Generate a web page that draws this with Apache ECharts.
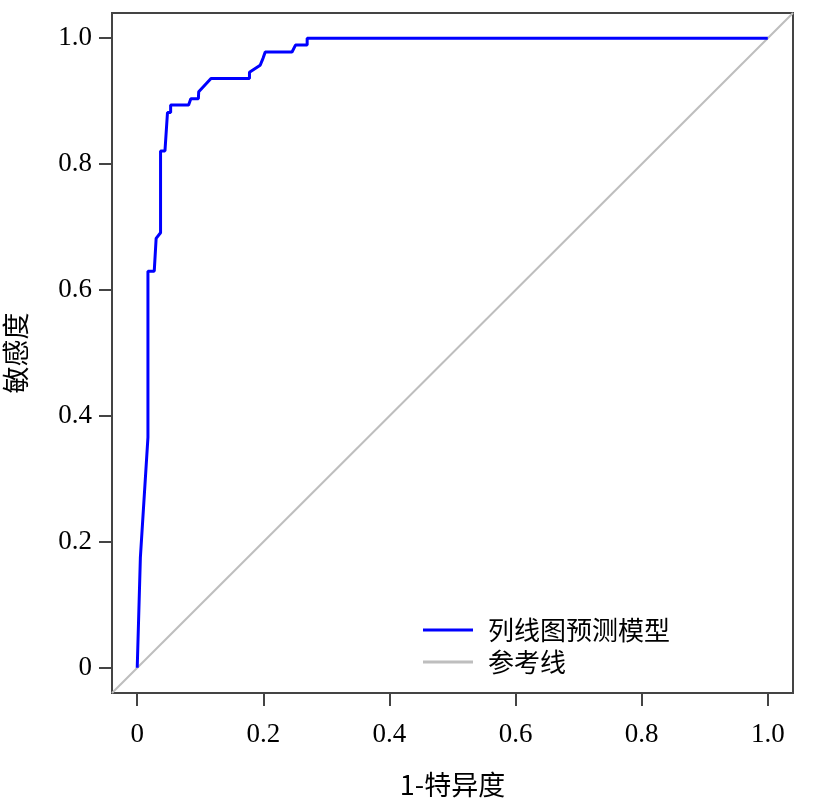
<!DOCTYPE html>
<html>
<head>
<meta charset="utf-8">
<script src="https://cdn.jsdelivr.net/npm/echarts@6/dist/echarts.min.js"></script>
<style>html,body{margin:0;padding:0;background:#fff}#c{width:827px;height:800px}</style>
</head>
<body>
<div id="c"></div>
<script>
// ROC curve points: [1 - specificity, sensitivity]
var rocPoints = [
  [0, 0], [0.005, 0.175], [0.017, 0.366], [0.017, 0.630], [0.027, 0.630],
  [0.030, 0.682], [0.033, 0.682], [0.037, 0.691], [0.037, 0.821], [0.044, 0.821],
  [0.048, 0.882], [0.053, 0.882], [0.053, 0.894], [0.0815, 0.894], [0.085, 0.904],
  [0.097, 0.904], [0.0975, 0.915], [0.117, 0.936], [0.178, 0.936], [0.178, 0.946],
  [0.195, 0.957], [0.1995, 0.968], [0.203, 0.978], [0.2455, 0.978], [0.251, 0.989],
  [0.2695, 0.989], [0.2695, 1.0], [1.0, 1.0]
];
var refPoints = [[-0.04, -0.04], [1.04, 1.04]];
var tickValues = [0, 0.2, 0.4, 0.6, 0.8, 1.0];
var tickLabels = ['0', '0.2', '0.4', '0.6', '0.8', '1.0'];
var seriesNames = ['列线图预测模型', '参考线'];
var xName = '1-特异度';
var yName = '敏感度';

var FONT = "'Liberation Serif', 'Noto Sans CJK SC', serif";
var AX = '#444';
function fmt(v) {
  var best = 0, bd = 1e9;
  for (var i = 0; i < tickValues.length; i++) {
    var d = Math.abs(tickValues[i] - v);
    if (d < bd) { bd = d; best = i; }
  }
  return tickLabels[best];
}
var axisCommon = {
  type: 'value', min: -0.04, max: 1.04,
  axisLine: { show: false, onZero: false },
  splitLine: { show: false },
  axisTick: { show: true, inside: false, length: 13, customValues: tickValues, lineStyle: { color: AX, width: 2 } },
  nameLocation: 'middle',
  nameTextStyle: { fontFamily: "'Noto Sans CJK SC', sans-serif", fontSize: 27, color: '#000' }
};
var chart = echarts.init(document.getElementById('c'), null, { renderer: 'canvas' });
chart.setOption({
  animation: false,
  backgroundColor: '#fff',
  grid: { left: 112, right: 34, top: 13, bottom: 107, show: true, borderColor: AX, borderWidth: 2, backgroundColor: 'transparent', containLabel: false, outerBoundsMode: 'none' },
  xAxis: Object.assign({}, axisCommon, {
    name: xName, nameGap: 78,
    axisLabel: { customValues: tickValues, formatter: fmt, margin: 28, fontFamily: FONT, fontSize: 27, color: '#000' }
  }),
  yAxis: Object.assign({}, axisCommon, {
    name: yName, nameGap: 83,
    axisLabel: { customValues: tickValues, formatter: fmt, margin: 20, fontFamily: FONT, fontSize: 27, color: '#000' }
  }),
  legend: {
    orient: 'vertical', left: 418, top: 610,
    data: [seriesNames[0], seriesNames[1]],
    icon: 'rect', itemWidth: 50, itemHeight: 3, itemGap: 2,
    textStyle: { fontFamily: "'Noto Sans CJK SC', sans-serif", fontSize: 26, color: '#000', lineHeight: 30, padding: [0, 0, 0, 10] }
  },
  series: [
    {
      name: seriesNames[1], type: 'line', data: refPoints, showSymbol: false, symbol: 'none',
      lineStyle: { color: '#BEBEBE', width: 2 }, itemStyle: { color: '#BEBEBE' }, z: 1
    },
    {
      name: seriesNames[0], type: 'line', data: rocPoints, showSymbol: false, symbol: 'none',
      lineStyle: { color: '#0000FF', width: 3 }, itemStyle: { color: '#0000FF' }, z: 2
    }
  ]
});
</script>
</body>
</html>
